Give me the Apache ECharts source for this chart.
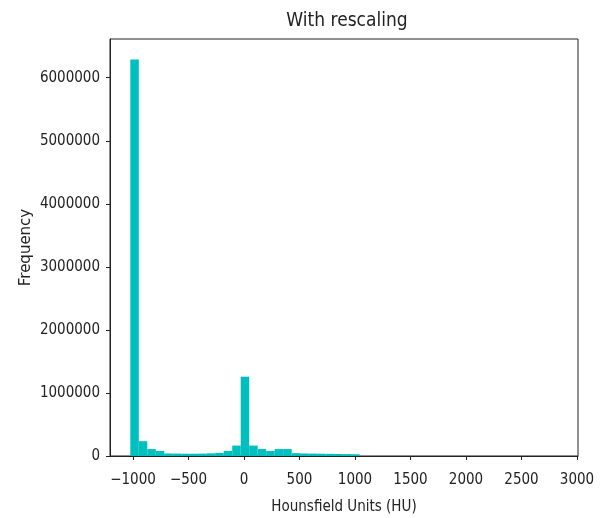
<!DOCTYPE html>
<html>
<head>
<meta charset="utf-8">
<script src="https://cdn.jsdelivr.net/npm/echarts@6/dist/echarts.min.js"></script>
<style>
html,body{margin:0;padding:0;background:#fff;}
#chart{width:603px;height:518px;}
</style>
</head>
<body>
<div id="chart"></div>
<script>
// Histogram data (Hounsfield Units), 50 bins
const binStart = -1024;
const binWidth = 76.5;
const counts = [
  6290000, 235000, 110000, 80000, 40000, 38000, 36000, 36000, 38000, 42000,
  50000, 80000, 165000, 1258000, 165000, 110000, 80000, 110000, 110000, 45000,
  40000, 38000, 36000, 34000, 32000, 30000, 28000, 0, 0, 0,
  0, 0, 0, 0, 0, 0, 0, 0, 0, 0,
  0, 0, 0, 0, 0, 0, 0, 0, 0, 0
];
const xTicks = [-1000, -500, 0, 500, 1000, 1500, 2000, 2500, 3000];
const yTicks = [0, 1000000, 2000000, 3000000, 4000000, 5000000, 6000000];
const titleText = 'With rescaling';
const xLabel = 'Hounsfield Units (HU)';
const yLabel = 'Frequency';

const histData = counts.map((c, i) => [binStart + i * binWidth, binStart + (i + 1) * binWidth, c]);

const fmt = v => String(v).replace('-', '\u2212');
const font = 'DejaVu Sans Condensed, DejaVu Sans, sans-serif';
const chart = echarts.init(document.getElementById('chart'), null, {renderer: 'canvas'});
chart.setOption({
  animation: false,
  backgroundColor: '#fff',
  title: {
    text: titleText,
    left: 342,
    top: 7,
    textAlign: 'center',
    textStyle: {fontFamily: font, fontSize: 19, fontWeight: 'normal', color: '#222'}
  },
  grid: {
    left: 110, right: 25, top: 39, bottom: 62,
    containLabel: false,
    outerBoundsMode: 'none',
    show: true, borderColor: '#222', borderWidth: 1, backgroundColor: 'transparent'
  },
  xAxis: {
    type: 'value',
    min: -1207,
    max: 3009,
    splitLine: {show: false},
    axisLine: {show: true, onZero: false, lineStyle: {color: '#222', width: 1}},
    axisTick: {show: true, length: 4, customValues: xTicks, lineStyle: {color: '#222'}},
    axisLabel: {customValues: xTicks, formatter: fmt, margin: 17, fontFamily: font, fontSize: 15, color: '#222'},
    name: xLabel,
    nameLocation: 'middle',
    nameGap: 44,
    nameMoveOverlap: false,
    nameTextStyle: {fontFamily: font, fontSize: 15, color: '#222'}
  },
  yAxis: {
    type: 'value',
    min: 0,
    max: 6614000,
    splitLine: {show: false},
    axisLine: {show: true, onZero: false, lineStyle: {color: '#222', width: 1}},
    axisTick: {show: true, length: 4, customValues: yTicks, lineStyle: {color: '#222'}},
    axisLabel: {customValues: yTicks, formatter: fmt, margin: 10, fontFamily: font, fontSize: 15, color: '#222'},
    name: yLabel,
    nameLocation: 'middle',
    nameGap: 76,
    nameMoveOverlap: false,
    nameTextStyle: {fontFamily: 'DejaVu Sans, sans-serif', fontSize: 15, color: '#222'}
  },
  series: [{
    type: 'custom',
    clip: true,
    data: histData,
    encode: {x: [0, 1], y: 2},
    renderItem: function (params, api) {
      const v = api.value(2);
      if (!v) return null;
      const p0 = api.coord([api.value(0), v]);
      const p1 = api.coord([api.value(1), 0]);
      return {
        type: 'rect',
        shape: {x: p0[0], y: p0[1], width: p1[0] - p0[0], height: p1[1] - p0[1]},
        style: {fill: '#00bfbf', stroke: null}
      };
    }
  }]
});
</script>
</body>
</html>
